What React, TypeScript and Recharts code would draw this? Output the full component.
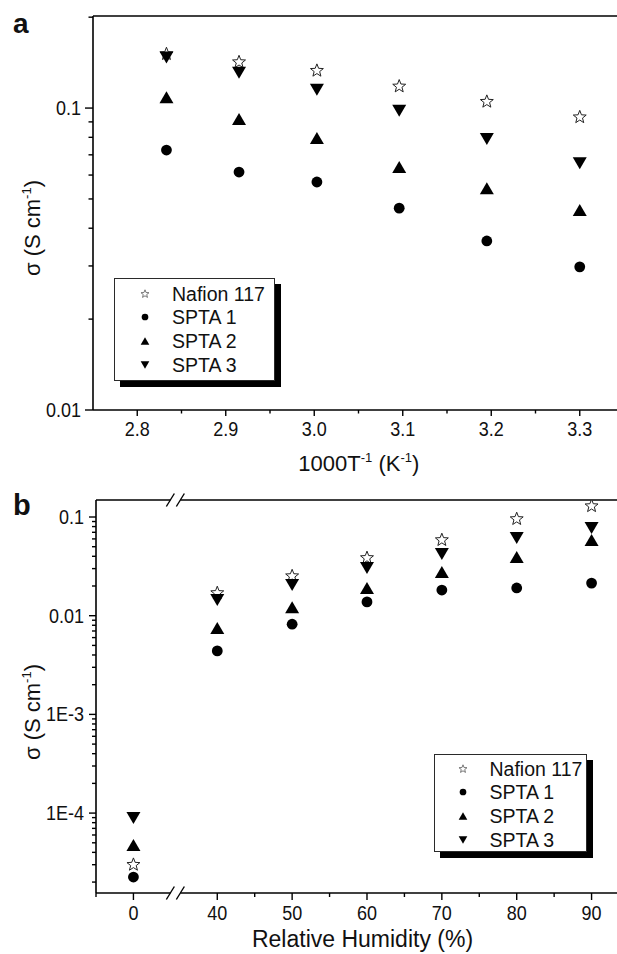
import React from 'react';
import { ScatterChart, Scatter, XAxis, YAxis, Legend, ReferenceDot } from 'recharts';

const FONT = '"Liberation Sans", Arial, Helvetica, sans-serif';
const INK = '#111';
const TEXT_SY = 1.1;

// ---------------- Panel a : conductivity vs 1000/T ----------------
const invTemp = [2.833, 2.915, 3.003, 3.096, 3.195, 3.3];
const aNafion117 = [0.151, 0.142, 0.133, 0.118, 0.105, 0.0933];
const aSPTA1 = [0.0726, 0.0614, 0.0569, 0.0466, 0.0363, 0.0298];
const aSPTA2 = [0.1087, 0.092, 0.0796, 0.0638, 0.0543, 0.046];
const aSPTA3 = [0.147, 0.131, 0.115, 0.098, 0.079, 0.0657];
const aXMajor = [2.8, 2.9, 3.0, 3.1, 3.2, 3.3];
const aXMinor = [2.85, 2.95, 3.05, 3.15, 3.25];
const aYMajor = [0.01, 0.1];
const aYMajorLabels = ['0.01', '0.1'];
const aYMinor = [0.02, 0.03, 0.04, 0.05, 0.06, 0.07, 0.08, 0.09, 0.2];
const aXDomain = [2.75, 3.35];
const aYDomain = [0.01, 0.2018];

// ---------------- Panel b : conductivity vs relative humidity ----------------
const humidity = [0, 40, 50, 60, 70, 80, 90];
const bNafion117 = [3.0e-5, 0.017, 0.0252, 0.0385, 0.0585, 0.0955, 0.129];
const bSPTA1 = [2.25e-5, 0.0044, 0.0082, 0.0138, 0.0182, 0.0191, 0.0214];
const bSPTA2 = [4.75e-5, 0.0075, 0.0122, 0.0191, 0.0277, 0.0394, 0.0585];
const bSPTA3 = [8.9e-5, 0.0144, 0.0205, 0.0305, 0.0422, 0.0613, 0.0773];
const bXMajor = [0, 40, 50, 60, 70, 80, 90];
const bXMinor = [-5, 45, 55, 65, 75, 85];
const bYMajor = [1e-4, 1e-3, 0.01, 0.1];
const bYMajorLabels = ['1E-4', '1E-3', '0.01', '0.1'];
const bYMinor = [
  2e-5, 3e-5, 4e-5, 5e-5, 6e-5, 7e-5, 8e-5, 9e-5,
  2e-4, 3e-4, 4e-4, 5e-4, 6e-4, 7e-4, 8e-4, 9e-4,
  2e-3, 3e-3, 4e-3, 5e-3, 6e-3, 7e-3, 8e-3, 9e-3,
  0.02, 0.03, 0.04, 0.05, 0.06, 0.07, 0.08, 0.09,
];
const bXDomain = [-5, 66.2];
const bYDomain = [1.55e-5, 0.1487];

const seriesNames = ['Nafion 117', 'SPTA 1', 'SPTA 2', 'SPTA 3'];

// broken humidity axis: values between BREAK_LO and BREAK_HI are cut out
const BREAK_LO = 5.6;
const BREAK_HI = 34.4;
const GAP = BREAK_HI - BREAK_LO;
const toAxis = (v: number) => (v <= BREAK_LO ? v : v - GAP);
const fromAxis = (v: number) => (v <= BREAK_LO ? v : v + GAP);

const near = (a: number, b: number) =>
  Math.abs(a - b) <= 1e-6 * Math.max(Math.abs(a), Math.abs(b)) + 1e-9;

const tableA = [aNafion117, aSPTA1, aSPTA2, aSPTA3].map((ys) =>
  invTemp.map((x, i) => ({ x, y: ys[i] }))
);
const tableB = [bNafion117, bSPTA1, bSPTA2, bSPTA3].map((ys) =>
  humidity.map((h, i) => ({ x: toAxis(h), y: ys[i] }))
);

const starPoints = (cx: number, cy: number, R: number, r: number) => {
  const pts: string[] = [];
  for (let k = 0; k < 10; k++) {
    const ang = -Math.PI / 2 + (k * Math.PI) / 5;
    const rad = k % 2 === 0 ? R : r;
    pts.push(`${cx + rad * Math.cos(ang)},${cy + rad * Math.sin(ang)}`);
  }
  return pts.join(' ');
};

const Marker = ({ kind, cx, cy, s = 1, legend = false }: any) => {
  if (cx == null || cy == null) return null;
  if (kind === 'Nafion 117')
    return (
      <polygon
        points={starPoints(cx, cy, 6.8 * s, 2.9 * s)}
        fill="#fff"
        stroke={legend ? '#777' : '#222'}
        strokeWidth={1}
      />
    );
  if (kind === 'SPTA 1') return <circle cx={cx} cy={cy} r={5.4 * s} fill="#000" />;
  if (kind === 'SPTA 2')
    return (
      <polygon
        points={`${cx},${cy - 6 * s} ${cx + 7 * s},${cy + 6 * s} ${cx - 7 * s},${cy + 6 * s}`}
        fill="#000"
      />
    );
  return (
    <polygon
      points={`${cx - 7 * s},${cy - 6 * s} ${cx + 7 * s},${cy - 6 * s} ${cx},${cy + 6 * s}`}
      fill="#000"
    />
  );
};

const BreakMark = ({ x, y }: any) => (
  <g>
    <rect x={x - 5} y={y - 2} width={10} height={4} fill="#fff" />
    <line x1={x - 9} y1={y + 6.5} x2={x - 1} y2={y - 6.5} stroke="#000" strokeWidth={1.4} />
    <line x1={x + 1} y1={y + 6.5} x2={x + 9} y2={y - 6.5} stroke="#000" strokeWidth={1.4} />
  </g>
);

const XTick = (props: any) => {
  const { x, y, payload, majors = [], fmt, labelDy = 26, majorLen = 6, minorLen = 3.5, breakAt } = props;
  const v = payload?.value;
  if (v == null) return null;
  if (breakAt !== undefined && near(v, breakAt)) return <BreakMark x={x} y={y} />;
  const idx = majors.findIndex((m: number) => near(m, v));
  const major = idx >= 0;
  return (
    <g>
      <line x1={x} y1={y} x2={x} y2={y + (major ? majorLen : minorLen)} stroke="#000" strokeWidth={1.4} />
      {major && (
        <text
          transform={`translate(${x},${y + labelDy}) scale(1,${TEXT_SY})`}
          textAnchor="middle"
          fontFamily={FONT}
          fontSize={18}
          fill={INK}
        >
          {fmt(v)}
        </text>
      )}
    </g>
  );
};

const YTick = (props: any) => {
  const { x, y, payload, majors = [], labels = [], majorLen = 7, minorLen = 4 } = props;
  const v = payload?.value;
  if (v == null) return null;
  const idx = majors.findIndex((m: number) => near(m, v));
  const major = idx >= 0;
  return (
    <g>
      <line x1={x - (major ? majorLen : minorLen)} y1={y} x2={x} y2={y} stroke="#000" strokeWidth={1.4} />
      {major && (
        <text
          transform={`translate(${x - 12},${y + 7}) scale(1,${TEXT_SY})`}
          textAnchor="end"
          fontFamily={FONT}
          fontSize={18}
          fill={INK}
        >
          {labels[idx]}
        </text>
      )}
    </g>
  );
};

const SigmaTitle = ({ tx, ty }: any) => (
  <text transform={`translate(${tx},${ty}) rotate(-90)`} textAnchor="middle" fontFamily={FONT} fontSize={22} fill={INK}>
    σ (S cm
    <tspan fontSize={13} dy={-9}>
      -1
    </tspan>
    <tspan dy={9}>)</tspan>
  </text>
);

const InvTTitle = ({ tx, ty }: any) => (
  <text x={tx} y={ty} textAnchor="middle" fontFamily={FONT} fontSize={22} fill={INK}>
    1000T
    <tspan fontSize={13} dy={-9}>
      -1
    </tspan>
    <tspan dy={9}> (K</tspan>
    <tspan fontSize={13} dy={-9}>
      -1
    </tspan>
    <tspan dy={9}>)</tspan>
  </text>
);

const RHTitle = ({ tx, ty }: any) => (
  <text x={tx} y={ty} textAnchor="middle" fontFamily={FONT} fontSize={23} fill={INK}>
    Relative Humidity (%)
  </text>
);

const LegendBox = (props: any) => {
  const { payload = [], w, h, symX, textX, firstY, step } = props;
  return (
    <div
      style={{
        position: 'relative',
        width: w,
        height: h,
        boxSizing: 'border-box',
        border: '1.5px solid #2a2a2a',
        background: '#fff',
        boxShadow: '6px 6px 0 #000',
        fontFamily: FONT,
      }}
    >
      {payload.map((entry: any, i: number) => {
        const cy = firstY + i * step - 1.5;
        return (
          <React.Fragment key={String(entry.value)}>
            <svg width={16} height={16} style={{ position: 'absolute', left: symX - 1.5 - 8, top: cy - 8 }}>
              <Marker kind={entry.value} cx={8} cy={8} s={0.62} legend />
            </svg>
            <div
              style={{
                position: 'absolute',
                left: textX - 1.5,
                top: cy - 12,
                height: 24,
                lineHeight: '24px',
                fontSize: 19.5,
                color: INK,
                whiteSpace: 'nowrap',
              }}
            >
              {entry.value}
            </div>
          </React.Fragment>
        );
      })}
    </div>
  );
};

const axisLine = { stroke: '#000', strokeWidth: 1.6 };

const App = () => {
  const aXTicks = [...aXMajor, ...aXMinor].sort((p, q) => p - q);
  const aYTicks = [...aYMajor, ...aYMinor].sort((p, q) => p - q);
  const bXTicks = [...bXMajor.map(toAxis), ...bXMinor.map(toAxis), BREAK_LO].sort((p, q) => p - q);
  const bYTicks = [...bYMajor, ...bYMinor].sort((p, q) => p - q);

  return (
    <div style={{ position: 'absolute', left: 0, top: 0, width: 617, height: 954, overflow: 'hidden', background: '#fff' }}>
      <div style={{ position: 'absolute', left: 0, top: 0 }}>
        <ScatterChart width={640} height={480} margin={{ top: 15, right: 16, left: 0, bottom: 0 }}>
          <XAxis
            dataKey="x"
            type="number"
            domain={aXDomain}
            allowDataOverflow
            ticks={aXTicks}
            interval={0}
            height={70}
            tickLine={false}
            tickSize={0}
            tickMargin={0}
            axisLine={axisLine}
            tick={<XTick majors={aXMajor} fmt={(v: number) => v.toFixed(1)} labelDy={26} />}
            label={<InvTTitle tx={358.8} ty={471} />}
          />
          <XAxis
            xAxisId="top"
            orientation="top"
            type="number"
            domain={aXDomain}
            allowDataOverflow
            height={1}
            tick={false}
            tickLine={false}
            axisLine={axisLine}
          />
          <YAxis
            dataKey="y"
            type="number"
            scale="log"
            domain={aYDomain}
            allowDataOverflow
            ticks={aYTicks}
            interval={0}
            width={93}
            tickLine={false}
            tickSize={0}
            tickMargin={0}
            axisLine={axisLine}
            tick={<YTick majors={aYMajor} labels={aYMajorLabels} majorLen={8} minorLen={4.5} />}
            label={<SigmaTitle tx={40} ty={228} />}
          />
          <Legend
            layout="vertical"
            align="center"
            verticalAlign="middle"
            wrapperStyle={{ left: 113.5, top: 278, width: 172, height: 112 }}
            content={<LegendBox w={161.5} h={102.5} symX={31.5} textX={59} firstY={16} step={23.7} />}
          />
          {seriesNames.map((name, si) => (
            <Scatter
              key={name}
              name={name}
              data={tableA[si]}
              isAnimationActive={false}
              shape={(p: any) => <Marker kind={name} cx={p.cx} cy={p.cy} />}
            />
          ))}
        </ScatterChart>
      </div>

      <div style={{ position: 'absolute', left: 0, top: 480 }}>
        <ScatterChart width={640} height={474} margin={{ top: 19, right: 11, left: 0, bottom: 0 }}>
          <XAxis
            dataKey="x"
            type="number"
            domain={bXDomain}
            allowDataOverflow
            ticks={bXTicks}
            interval={0}
            height={61}
            tickLine={false}
            tickSize={0}
            tickMargin={0}
            axisLine={axisLine}
            tick={
              <XTick
                majors={bXMajor.map(toAxis)}
                fmt={(v: number) => String(Math.round(fromAxis(v)))}
                labelDy={27}
                majorLen={7}
                minorLen={4}
                breakAt={BREAK_LO}
              />
            }
            label={<RHTitle tx={362.5} ty={467} />}
          />
          <XAxis
            xAxisId="top"
            orientation="top"
            type="number"
            domain={bXDomain}
            allowDataOverflow
            height={1}
            tick={false}
            tickLine={false}
            axisLine={axisLine}
          />
          <YAxis
            dataKey="y"
            type="number"
            scale="log"
            domain={bYDomain}
            allowDataOverflow
            ticks={bYTicks}
            interval={0}
            width={96}
            tickLine={false}
            tickSize={0}
            tickMargin={0}
            axisLine={axisLine}
            tick={<YTick majors={bYMajor} labels={bYMajorLabels} majorLen={7} minorLen={4} />}
            label={<SigmaTitle tx={40} ty={232} />}
          />
          <ReferenceDot
            x={BREAK_LO}
            y={bYDomain[1]}
            ifOverflow="visible"
            shape={(p: any) => <BreakMark x={p.cx} y={p.cy} />}
          />
          <Legend
            layout="vertical"
            align="center"
            verticalAlign="middle"
            wrapperStyle={{ left: 434, top: 274, width: 164, height: 108 }}
            content={<LegendBox w={153} h={98} symX={29} textX={56} firstY={15.3} step={23.6} />}
          />
          {seriesNames.map((name, si) => (
            <Scatter
              key={name}
              name={name}
              data={tableB[si]}
              isAnimationActive={false}
              shape={(p: any) => <Marker kind={name} cx={p.cx} cy={p.cy} />}
            />
          ))}
        </ScatterChart>
      </div>

      <svg width={617} height={954} style={{ position: 'absolute', left: 0, top: 0, pointerEvents: 'none' }}>
        <text x={13} y={33} fontFamily={FONT} fontWeight="bold" fontSize={28} fill={INK}>
          a
        </text>
        <text x={13} y={515} fontFamily={FONT} fontWeight="bold" fontSize={29} fill={INK}>
          b
        </text>
      </svg>
    </div>
  );
};

export default App;
